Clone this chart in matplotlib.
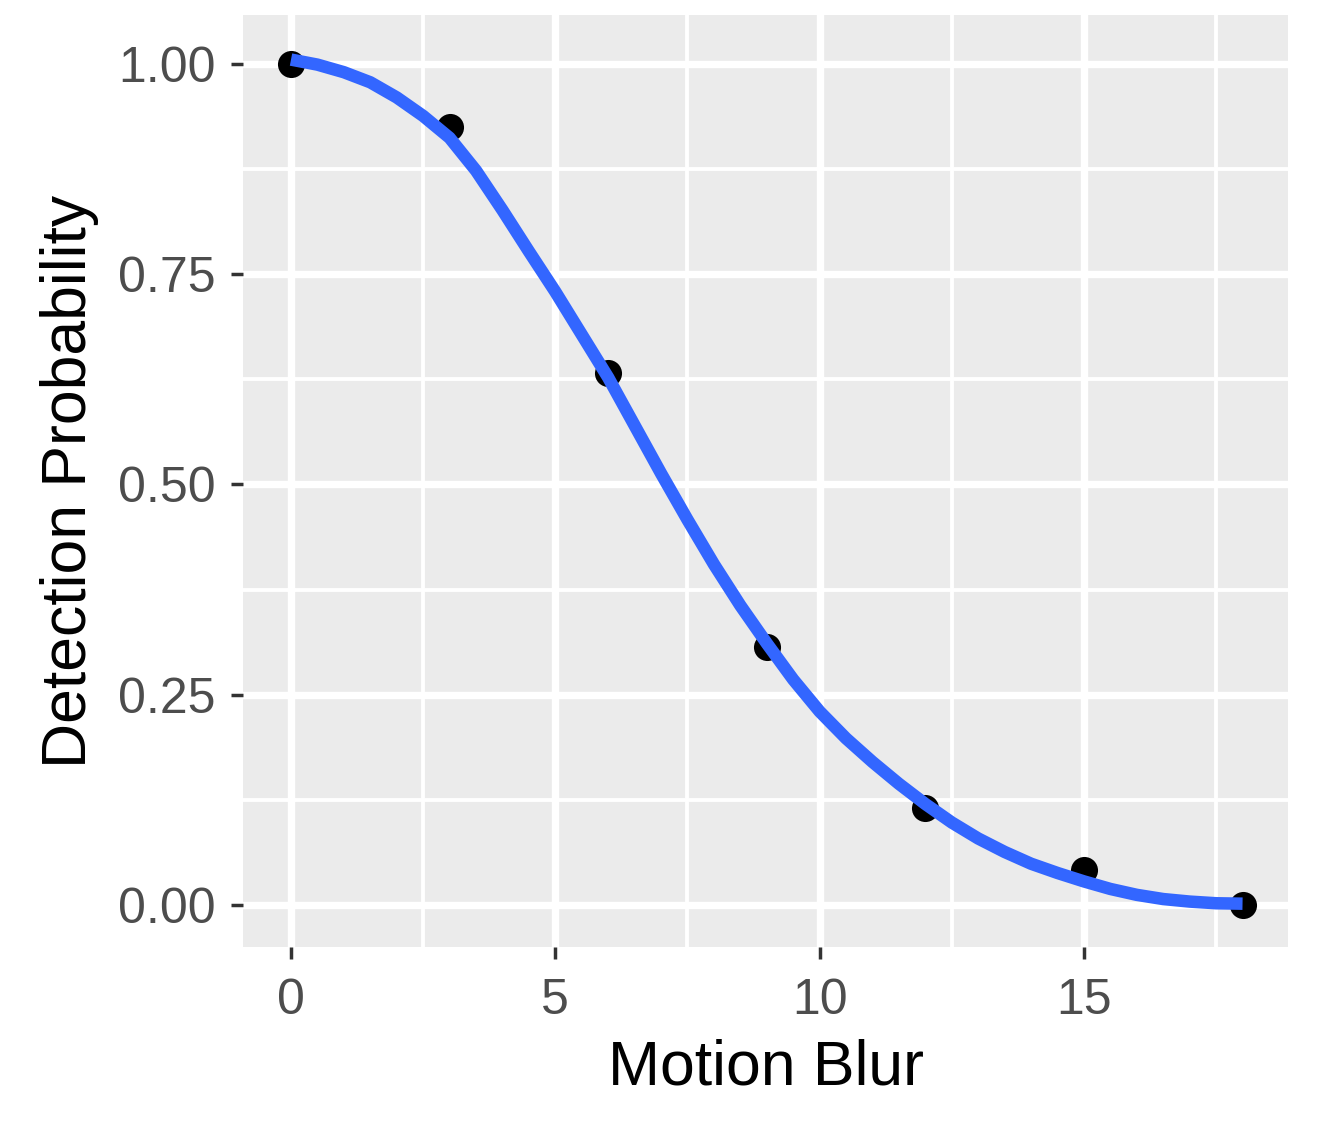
import matplotlib
matplotlib.use("Agg")
import matplotlib.pyplot as plt
from matplotlib.ticker import MultipleLocator

plt.rcParams['font.family'] = ['Liberation Sans', 'DejaVu Sans']

# observed points
blur = [0, 3, 6, 9, 12, 15, 18]
detect = [1.00, 0.925, 0.632, 0.307, 0.115, 0.042, 0.000]

# smoothed curve, every half unit
curve_x = [0.0, 0.5, 1.0, 1.5, 2.0, 2.5, 3.0, 3.5, 4.0, 4.5, 5.0, 5.5, 6.0, 6.5,
           7.0, 7.5, 8.0, 8.5, 9.0, 9.5, 10.0, 10.5, 11.0, 11.5, 12.0, 12.5,
           13.0, 13.5, 14.0, 14.5, 15.0, 15.5, 16.0, 16.5, 17.0, 17.5, 18.0]
curve_y = [1.005, 0.999, 0.990, 0.978, 0.960, 0.938, 0.912, 0.873, 0.826, 0.777,
           0.729, 0.678, 0.627, 0.570, 0.513, 0.458, 0.405, 0.356, 0.311, 0.268,
           0.230, 0.198, 0.170, 0.144, 0.120, 0.098, 0.079, 0.063, 0.049, 0.038,
           0.028, 0.019, 0.012, 0.007, 0.004, 0.002, 0.0015]

x_ticks = [0, 5, 10, 15]
y_ticks = [0.00, 0.25, 0.50, 0.75, 1.00]
y_tick_labels = ['0.00', '0.25', '0.50', '0.75', '1.00']

fig = plt.figure(figsize=(13.19, 11.22), dpi=100)
ax = fig.add_axes([243 / 1319, 1 - 947 / 1122, (1288 - 243) / 1319, (947 - 15) / 1122])
ax.set_facecolor('#EBEBEB')

ax.scatter(blur, detect, s=380, color='black', zorder=3, linewidths=0)
ax.plot(curve_x, curve_y, color='#3366FF', linewidth=9, solid_capstyle='butt',
        solid_joinstyle='round', zorder=4)

ax.set_xlim(-0.908, 18.86)
ax.set_ylim(-0.050, 1.058)

ax.set_xticks(x_ticks)
ax.xaxis.set_minor_locator(MultipleLocator(2.5))
ax.set_yticks(y_ticks)
ax.set_yticklabels(y_tick_labels)
ax.yaxis.set_minor_locator(MultipleLocator(0.125))

ax.grid(which='major', color='white', linewidth=5.3)
ax.grid(which='minor', color='white', linewidth=2.8)
ax.set_axisbelow(True)
for s in ax.spines.values():
    s.set_visible(False)

ax.tick_params(which='major', length=8.6, width=2.5, color='#333333',
               labelsize=36, labelcolor='#4D4D4D')
ax.tick_params(axis='x', which='major', pad=14)
ax.tick_params(axis='y', which='major', pad=11)
ax.tick_params(which='minor', length=0)

ax.set_xlabel('Motion Blur', fontsize=45, labelpad=10)
ax.set_ylabel('Detection Probability', fontsize=45, labelpad=14)

fig.savefig('out.png', dpi=100)
